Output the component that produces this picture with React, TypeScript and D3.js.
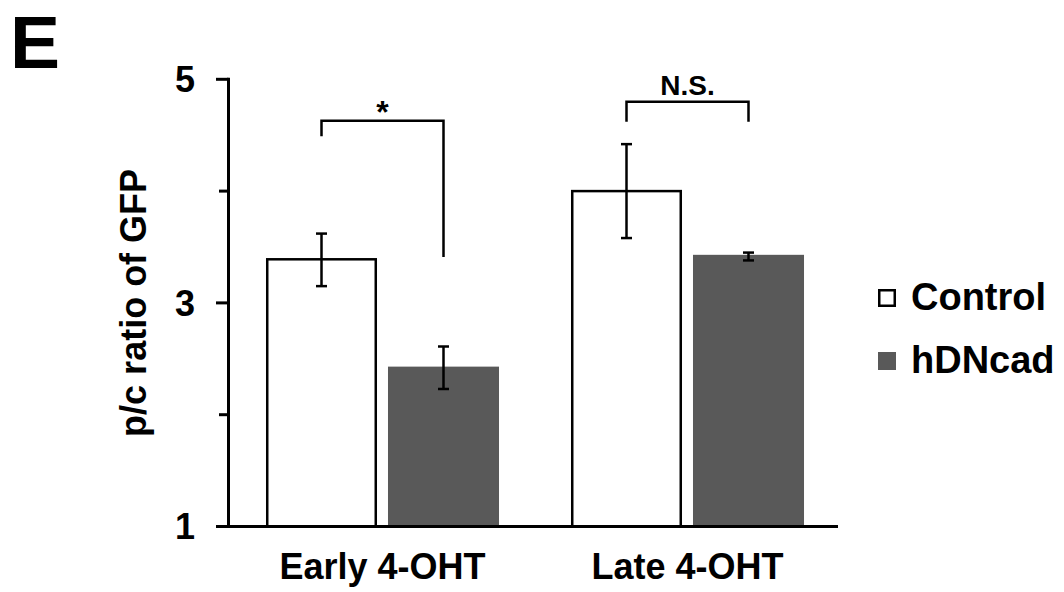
import React from "react";
import * as d3 from "d3";

const categories = ["Early 4-OHT", "Late 4-OHT"];
const seriesNames = ["Control", "hDNcad"];
const controlValues = [3.39, 4.0];
const controlErrLow = [3.15, 3.58];
const controlErrHigh = [3.62, 4.42];
const hdncadValues = [2.43, 3.43];
const hdncadErrLow = [2.23, 3.38];
const hdncadErrHigh = [2.61, 3.45];
const yTicksMajor = [1, 3, 5];
const yTicksMinor = [2, 4];
const sigLabels = ["*", "N.S."];
const sigTop = [4.63, 4.8];
const sigLeftEnd = [4.49, 4.62];
const sigRightEnd = [3.41, 4.62];

const W = 1064;
const H = 592;
const FONT = "'Liberation Sans', Arial, Helvetica, sans-serif";

export default function App() {
  const y = d3.scaleLinear().domain([1, 5]).range([526.5, 79.3]);
  const x0 = d3.scaleBand<string>().domain(categories).range([230, 840]).paddingInner(0.236).paddingOuter(0.118);
  const x1 = d3.scaleBand<string>().domain(seriesNames).range([0, x0.bandwidth()]).paddingInner(0.09);
  const axisX = 228.5;
  const series = [
    { name: "Control", values: controlValues, lo: controlErrLow, hi: controlErrHigh, fill: "#ffffff", stroke: "#000000" },
    { name: "hDNcad", values: hdncadValues, lo: hdncadErrLow, hi: hdncadErrHigh, fill: "#595959", stroke: "none" },
  ];
  const bw = x1.bandwidth();
  const cx = (ci: number, s: string) => (x0(categories[ci]) as number) + (x1(s) as number) + bw / 2;
  const capHalf = 5.5;

  return (
    <svg width={W} height={H} style={{ position: "absolute", left: 0, top: 0, background: "#fff" }} fontFamily={FONT}>
      <rect x={0} y={0} width={W} height={H} fill="#fff" />
      <text x={10} y={68} fontSize={75} fontWeight="bold" fill="#000">E</text>

      {/* bars */}
      {series.map((s) =>
        categories.map((c, i) => {
          const bx = (x0(c) as number) + (x1(s.name) as number);
          const top = y(s.values[i]);
          const isCtl = s.stroke !== "none";
          return (
            <rect
              key={s.name + c}
              x={bx + (isCtl ? 1.25 : 0)}
              y={top}
              width={bw - (isCtl ? 2.5 : 0)}
              height={y(1) - top}
              fill={s.fill}
              stroke={s.stroke}
              strokeWidth={2.5}
            />
          );
        })
      )}

      {/* error bars */}
      {series.map((s) =>
        categories.map((c, i) => {
          const xc = cx(i, s.name);
          return (
            <g key={"e" + s.name + c} stroke="#000" strokeWidth={2.5}>
              <line x1={xc} x2={xc} y1={y(s.lo[i])} y2={y(s.hi[i])} />
              <line x1={xc - capHalf} x2={xc + capHalf} y1={y(s.lo[i])} y2={y(s.lo[i])} />
              <line x1={xc - capHalf} x2={xc + capHalf} y1={y(s.hi[i])} y2={y(s.hi[i])} />
            </g>
          );
        })
      )}

      {/* axes */}
      <line x1={axisX} x2={axisX} y1={y(5) - 1.5} y2={y(1) + 1.5} stroke="#000" strokeWidth={3} />
      <line x1={216} x2={838} y1={y(1)} y2={y(1)} stroke="#000" strokeWidth={3} />
      {yTicksMajor.map((t) => (
        <g key={"t" + t}>
          <line x1={216} x2={axisX} y1={y(t)} y2={y(t)} stroke="#000" strokeWidth={3} />
          <text x={195} y={y(t)} dy="0.36em" textAnchor="end" fontSize={36} fontWeight="bold" fill="#000">
            {t}
          </text>
        </g>
      ))}
      {yTicksMinor.map((t) => (
        <line key={"m" + t} x1={219} x2={axisX} y1={y(t)} y2={y(t)} stroke="#000" strokeWidth={3} />
      ))}

      {/* x labels */}
      {categories.map((c) => (
        <text
          key={"xl" + c}
          x={(x0(c) as number) + x0.bandwidth() / 2}
          y={579}
          textAnchor="middle"
          fontSize={36}
          fontWeight="bold"
          fill="#000"
        >
          {c}
        </text>
      ))}

      {/* y label */}
      <text
        transform={`translate(146, ${y(3)}) rotate(-90)`}
        textAnchor="middle"
        fontSize={36}
        fontWeight="bold"
        fill="#000"
      >
        p/c ratio of GFP
      </text>

      {/* significance brackets */}
      {categories.map((c, i) => {
        const xl = cx(i, "Control");
        const xr = cx(i, "hDNcad");
        const yt = y(sigTop[i]);
        const isStar = sigLabels[i] === "*";
        return (
          <g key={"sig" + c}>
            <path
              d={`M${xl},${y(sigLeftEnd[i])}V${yt}H${xr}V${y(sigRightEnd[i])}`}
              fill="none"
              stroke="#000"
              strokeWidth={2.5}
            />
            <text
              x={(xl + xr) / 2}
              y={isStar ? yt - 4 : yt - 7}
              textAnchor="middle"
              fontSize={isStar ? 32 : 28}
              fontWeight="bold"
              fill="#000"
              dy={isStar ? "0.2em" : "0"}
            >
              {sigLabels[i]}
            </text>
          </g>
        );
      })}

      {/* legend */}
      {series.map((s, i) => {
        const isCtl = s.stroke !== "none";
        return (
          <g key={"lg" + s.name} transform={`translate(878, ${307 + i * 63})`}>
            <rect
              x={isCtl ? 1.25 : 0}
              y={-18 + (isCtl ? 1.25 : 0)}
              width={isCtl ? 15.5 : 18}
              height={isCtl ? 15.5 : 18}
              fill={s.fill}
              stroke={s.stroke}
              strokeWidth={2.5}
            />
            <text x={33} y={3} fontSize={38} fontWeight="bold" fill="#000">
              {s.name}
            </text>
          </g>
        );
      })}
    </svg>
  );
}
